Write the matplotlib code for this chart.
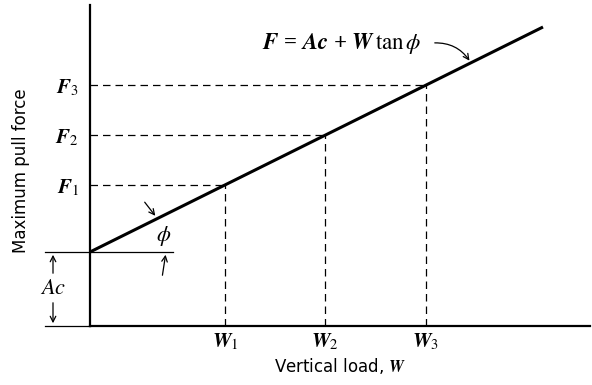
import numpy as np
import matplotlib
matplotlib.use("Agg")
import matplotlib.pyplot as plt

plt.rcParams['mathtext.fontset'] = 'stix'
plt.rcParams['font.family'] = ['DejaVu Sans']

# values (units ~ pixels from the origin)
W_vals = [135, 235, 336]
F_vals = [141, 191, 241]
W_labels = [r"$\mathbfit{W}_1$", r"$\mathbfit{W}_2$", r"$\mathbfit{W}_3$"]
F_labels = [r"$\mathbfit{F}_1$", r"$\mathbfit{F}_2$", r"$\mathbfit{F}_3$"]
Ac = 74
line_W = [0, 453]
line_F = [74, 299]

fig = plt.figure(figsize=(5.92, 3.85), dpi=100)
ax = fig.add_axes([90/592, 59/385, 500/592, 321/385])
ax.set_xlim(0, 500)
ax.set_ylim(0, 321)

# main line
ax.plot(line_W, line_F, color="black", lw=2.2, solid_capstyle="butt")

# dashed guides
for w, f in zip(W_vals, F_vals):
    ax.plot([0, w], [f, f], color="black", lw=0.9, ls=(0, (6, 4)))
    ax.plot([w, w], [0, f], color="black", lw=0.9, ls=(0, (6, 4)))

for s in ["top", "right"]:
    ax.spines[s].set_visible(False)
ax.spines["left"].set_linewidth(1.6)
ax.spines["bottom"].set_linewidth(1.6)

ax.set_xticks(W_vals)
ax.set_xticklabels(W_labels, fontsize=15)
ax.set_yticks(F_vals)
ax.set_yticklabels(F_labels, fontsize=15)
ax.tick_params(axis="x", length=0, pad=4)
ax.tick_params(axis="y", length=0, pad=8)

ax.set_xlabel(r"Vertical load, $\mathbfit{W}$", fontsize=12, labelpad=3)
ax.set_ylabel("Maximum pull force", fontsize=12)
ax.yaxis.set_label_coords(-0.12, 0.485)

# Ac dimension
ax.plot([-45, 83], [Ac, Ac], color="black", lw=0.9, clip_on=False)
ax.plot([-45, 0], [0, 0], color="black", lw=0.9, clip_on=False)
ax.annotate("", xy=(-37, Ac), xytext=(-37, Ac - 24),
            arrowprops=dict(arrowstyle="->", color="black", lw=0.9), annotation_clip=False)
ax.annotate("", xy=(-37, 0), xytext=(-37, 26),
            arrowprops=dict(arrowstyle="->", color="black", lw=0.9), annotation_clip=False)
ax.text(-37, 38, r"$\mathit{Ac}$", fontsize=16, ha="center", va="center")

# phi
ax.text(74, 90, r"$\phi$", fontsize=16, ha="center", va="center")
ax.annotate("", xy=(67, 108), xytext=(53, 126),
            arrowprops=dict(arrowstyle="->", color="black", lw=0.9))
ax.annotate("", xy=(76, Ac), xytext=(72, 48),
            arrowprops=dict(arrowstyle="->", color="black", lw=0.9))

# formula
ax.text(252, 283, r"$\mathbfit{F}$ = $\mathbfit{Ac}$ + $\mathbfit{W}$$\,\mathrm{tan}\,\phi$",
        fontsize=16.5, family="Liberation Serif", weight="bold", ha="center", va="center")
ax.annotate("", xy=(381, 263), xytext=(342, 283),
            arrowprops=dict(arrowstyle="->", color="black", lw=0.9,
                            connectionstyle="arc3,rad=-0.3"))

fig.savefig("out.png", dpi=100)
